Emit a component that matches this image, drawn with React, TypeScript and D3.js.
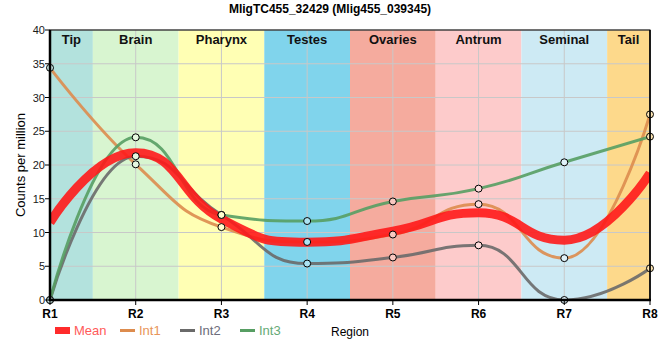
import React from "react";
import * as d3 from "d3";

const title = "MligTC455_32429 (Mlig455_039345)";
const regions = ["R1", "R2", "R3", "R4", "R5", "R6", "R7", "R8"];
const bandNames = ["Tip", "Brain", "Pharynx", "Testes", "Ovaries", "Antrum", "Seminal", "Tail"];
const bandColors = ["#b3e2dd", "#d8f5d0", "#ffffb4", "#80d4ec", "#f5ab9e", "#fdcbcb", "#cdeaf4", "#fdd98b"];
const int1 = [34.4, 20.1, 10.8, 8.6, 9.7, 14.2, 6.2, 27.5];
const int2 = [0, 21.3, 12.6, 5.4, 6.3, 8.1, 0, 4.7];
const int3 = [0, 24.1, 12.6, 11.7, 14.6, 16.5, 20.4, 24.2];
const seriesNames = ["Int1", "Int2", "Int3"];
const seriesColors = ["#dd8c4e", "#6a6a6a", "#579e63"];
const yTicks = [0, 5, 10, 15, 20, 25, 30, 35, 40];

const W = 660, H = 360;
const M = { left: 50, right: 10, top: 30, bottom: 60 };
const PW = W - M.left - M.right;
const PH = H - M.top - M.bottom;
const FONT = "'Liberation Sans', Arial, sans-serif";

// Spline with collinear control points clamped to neighbours (no false extremes)
function splinePath(pts: [number, number][]): string {
  const s = 1, den = s + 1;
  const n = pts.length;
  const lc: ([number, number] | null)[] = new Array(n).fill(null);
  const rc: ([number, number] | null)[] = new Array(n).fill(null);
  for (let i = 1; i < n - 1; i++) {
    const [px, py] = pts[i];
    const [lx, ly] = pts[i - 1];
    const [nx, ny] = pts[i + 1];
    const lcx = (s * px + lx) / den;
    let lcy = (s * py + ly) / den;
    const rcx = (s * px + nx) / den;
    let rcy = (s * py + ny) / den;
    let corr = 0;
    if (rcx !== lcx) corr = ((rcy - lcy) * (rcx - px)) / (rcx - lcx) + py - rcy;
    lcy += corr;
    rcy += corr;
    if (lcy > ly && lcy > py) {
      lcy = Math.max(ly, py);
      rcy = 2 * py - lcy;
    } else if (lcy < ly && lcy < py) {
      lcy = Math.min(ly, py);
      rcy = 2 * py - lcy;
    }
    if (rcy > ny && rcy > py) {
      rcy = Math.max(ny, py);
      lcy = 2 * py - rcy;
    } else if (rcy < ny && rcy < py) {
      rcy = Math.min(ny, py);
      lcy = 2 * py - rcy;
    }
    lc[i] = [lcx, lcy];
    rc[i] = [rcx, rcy];
  }
  const p = d3.path();
  p.moveTo(pts[0][0], pts[0][1]);
  for (let i = 1; i < n; i++) {
    const c1 = rc[i - 1] || pts[i - 1];
    const c2 = lc[i] || pts[i];
    p.bezierCurveTo(c1[0], c1[1], c2[0], c2[1], pts[i][0], pts[i][1]);
  }
  return p.toString();
}

export default function App() {
  const x = d3.scalePoint<string>().domain(regions).range([M.left, M.left + PW]);
  const y = d3.scaleLinear().domain([0, 40]).range([M.top + PH, M.top]);
  const step = x.step();
  const series = [int1, int2, int3];
  const mean = regions.map((_, i) => d3.mean(series.map((s) => s[i])) as number);
  const toPts = (s: number[]) => s.map((v, i) => [x(regions[i]) as number, y(v)] as [number, number]);

  const bandX = (i: number) => Math.max(M.left, (x(regions[i]) as number) - step / 2);
  const bandX2 = (i: number) => Math.min(M.left + PW, (x(regions[i]) as number) + step / 2);

  const lighten = (c: string) => d3.interpolateRgb(c, "#ffffff")(0.35);

  const legendItems = [
    { name: "Mean", color: "#ff2b2b", text: "#ff5a5a", x: 55, mean: true },
    { name: seriesNames[0], color: seriesColors[0], text: "#e8955a", x: 120, mean: false },
    { name: seriesNames[1], color: seriesColors[1], text: "#6c6c7a", x: 180, mean: false },
    { name: seriesNames[2], color: seriesColors[2], text: "#66aa76", x: 240, mean: false },
  ];

  return (
    <svg width={W} height={H} style={{ position: "absolute", left: 0, top: 0, fontFamily: FONT }}>
      <defs>
        <clipPath id="plot">
          <rect x={M.left} y={M.top} width={PW} height={PH} />
        </clipPath>
      </defs>
      <rect x={0} y={0} width={W} height={H} fill="#fff" />
      <text x={W / 2} y={13} textAnchor="middle" fontSize={12} fontWeight="bold" fill="#000">
        {title}
      </text>
      {bandNames.map((b, i) => (
        <rect key={b} x={bandX(i)} y={M.top} width={bandX2(i) - bandX(i)} height={PH} fill={bandColors[i]} />
      ))}
      {yTicks.map((t) => (
        <line key={"gy" + t} x1={M.left} x2={M.left + PW} y1={y(t)} y2={y(t)} stroke="#c8c8c8" strokeWidth={1} />
      ))}
      {regions.map((r) => (
        <line key={"gx" + r} x1={x(r)} x2={x(r)} y1={M.top} y2={M.top + PH} stroke="#c8c8c8" strokeWidth={1} />
      ))}
      {bandNames.map((b, i) => (
        <text
          key={"bl" + b}
          x={(bandX(i) + bandX2(i)) / 2}
          y={M.top + 14}
          textAnchor="middle"
          fontSize={13}
          fontWeight="bold"
          fill="#111"
        >
          {b}
        </text>
      ))}
      <g clipPath="url(#plot)">
        {series.map((s, k) => (
          <path key={"l" + k} d={splinePath(toPts(s))} fill="none" stroke={seriesColors[k]} strokeWidth={3} strokeOpacity={0.9} />
        ))}
        <path d={splinePath(toPts(mean))} fill="none" stroke="#ff1a1a" strokeWidth={9} strokeOpacity={0.9} />
      </g>
      {series.map((s, k) =>
        s.map((v, i) => (
          <circle
            key={"p" + k + "-" + i}
            cx={x(regions[i])}
            cy={y(v)}
            r={3.5}
            fill={lighten(bandColors[i])}
            stroke="#000"
            strokeWidth={1}
          />
        ))
      )}
      <rect x={M.left} y={M.top} width={PW} height={PH} fill="none" stroke="#000" strokeWidth={1} />
      <line x1={M.left} x2={M.left} y1={M.top} y2={M.top + PH + 1} stroke="#000" strokeWidth={2.5} />
      <line x1={M.left - 1} x2={M.left + PW + 1} y1={M.top + PH} y2={M.top + PH} stroke="#000" strokeWidth={2.5} />
      <line x1={M.left + PW} x2={M.left + PW} y1={M.top} y2={M.top + PH} stroke="#000" strokeWidth={1.5} />
      {yTicks.map((t) => (
        <g key={"yt" + t}>
          <line x1={M.left - 5} x2={M.left} y1={y(t)} y2={y(t)} stroke="#000" strokeWidth={1} />
          <text x={M.left - 5} y={y(t) + 4} textAnchor="end" fontSize={11} fill="#1a1a1a">
            {t}
          </text>
        </g>
      ))}
      {regions.map((r) => (
        <g key={"xt" + r}>
          <line x1={x(r)} x2={x(r)} y1={M.top + PH} y2={M.top + PH + 5} stroke="#000" strokeWidth={1} />
          <text x={x(r)} y={M.top + PH + 18} textAnchor="middle" fontSize={12} fontWeight="bold" fill="#000">
            {r}
          </text>
        </g>
      ))}
      <text
        transform={`translate(25,${M.top + PH / 2}) rotate(-90)`}
        textAnchor="middle"
        fontSize={13}
        fill="#000"
      >
        Counts per million
      </text>
      <text x={M.left + PW / 2} y={336} textAnchor="middle" fontSize={12} fill="#000">
        Region
      </text>
      {legendItems.map((it) => (
        <g key={"lg" + it.name}>
          {it.mean ? (
            <rect x={it.x} y={327} width={15} height={7} fill={it.color} />
          ) : (
            <line x1={it.x} x2={it.x + 15} y1={330.5} y2={330.5} stroke={it.color} strokeWidth={3} />
          )}
          <text x={it.x + 19} y={335} fontSize={13} fill={it.text}>
            {it.name}
          </text>
        </g>
      ))}
    </svg>
  );
}
